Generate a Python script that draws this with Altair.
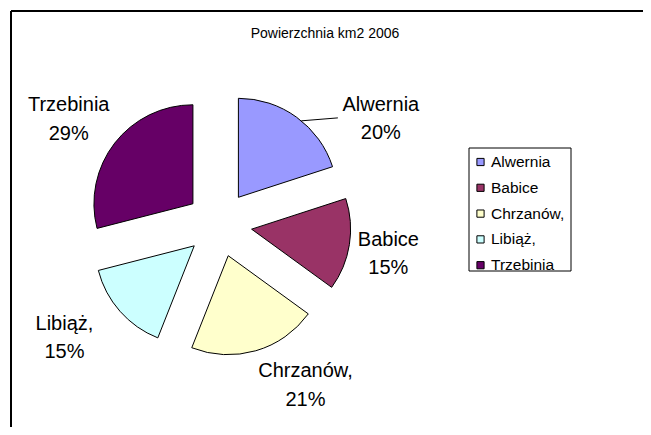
import math
import altair as alt
import pandas as pd

# ---- data ----
names = ["Alwernia", "Babice", "Chrzanów,", "Libiąż,", "Trzebinia"]
percents = [20, 15, 21, 15, 29]
colors = ["#9999FF", "#993366", "#FFFFCC", "#CCFFFF", "#660066"]
title_text = "Powierzchnia km2 2006"

# ---- layout (plot-area pixels) ----
W, H = 635, 419
CX, CY = 211, 216          # pie centre
R = 99                     # slice radius
EXPLODE = 33               # explosion distance
LINE_H = 28.5              # label line height
# label placement: (angle shift from slice middle in degrees, distance from centre)
label_layout = {
    "Alwernia": (21, 193),
    "Babice": (1, 172),
    "Chrzanów,": (-12, 183),
    "Libiąż,": (5, 192),
    "Trzebinia": (-3, 183),
}
LEG_X0, LEG_X1, LEG_Y0, LEG_Y1 = 461, 563, 140, 263
LEG_ROW0, LEG_STEP = 154, 25.8
FONT = "Liberation Sans"

total = sum(percents)
rows = []
cum = 0.0
for i, (n, p) in enumerate(zip(names, percents)):
    a0 = 2 * math.pi * cum / total
    cum += p
    a1 = 2 * math.pi * cum / total
    mid = (a0 + a1) / 2
    px = CX + EXPLODE * math.sin(mid)
    py = CY - EXPLODE * math.cos(mid)
    shift, dist = label_layout[n]
    la = mid + math.radians(shift)
    lx = CX + dist * math.sin(la)
    ly = CY - dist * math.cos(la)
    rows.append(dict(
        name=n, pct=p, a0=a0, a1=a1, px=px, py=py,
        lx=lx, ty=ly - LINE_H / 2, label=f"{n}\n{p}%",
        sx=px + R * math.sin(mid + 0.06), sy=py - R * math.cos(mid + 0.06),
        ex=lx - 43, ey=ly - 1,
        gy=LEG_ROW0 + i * LEG_STEP,
    ))
df = pd.DataFrame(rows)
one = pd.DataFrame({"k": [0]})

color = alt.Color("name:N", scale=alt.Scale(domain=names, range=colors), legend=None)

frame_top = alt.Chart(one).mark_rule(color="black", strokeWidth=2).encode(
    x=alt.value(3), x2=alt.value(W), y=alt.value(3))
frame_left = alt.Chart(one).mark_rule(color="black", strokeWidth=2).encode(
    x=alt.value(3), y=alt.value(3), y2=alt.value(H))

title = alt.Chart(one).mark_text(
    text=title_text, font=FONT, fontSize=14, color="black",
    align="center", baseline="middle").encode(x=alt.value(317), y=alt.value(26))

pie = alt.Chart(df).mark_arc(outerRadius=R, stroke="black", strokeWidth=1).encode(
    theta=alt.Theta("a0:Q", scale=None, stack=None),
    theta2="a1:Q",
    x=alt.X("px:Q", scale=None),
    y=alt.Y("py:Q", scale=None),
    color=color,
)

labels = alt.Chart(df).mark_text(
    font=FONT, fontSize=20, color="black", lineBreak="\n", lineHeight=LINE_H,
    align="center", baseline="middle").encode(
    x=alt.X("lx:Q", scale=None), y=alt.Y("ty:Q", scale=None), text="label:N")

leader = alt.Chart(df).transform_filter(alt.datum.name == "Alwernia").mark_rule(
    color="black", strokeWidth=1).encode(
    x=alt.X("sx:Q", scale=None), y=alt.Y("sy:Q", scale=None),
    x2="ex:Q", y2="ey:Q")

leg_box = alt.Chart(one).mark_rect(fill="white", stroke="black", strokeWidth=1).encode(
    x=alt.value(LEG_X0), x2=alt.value(LEG_X1), y=alt.value(LEG_Y0), y2=alt.value(LEG_Y1))
leg_sym = alt.Chart(df).mark_square(size=52, stroke="black", strokeWidth=1, opacity=1).encode(
    x=alt.value(LEG_X0 + 11.5), y=alt.Y("gy:Q", scale=None), color=color)
leg_txt = alt.Chart(df).mark_text(
    font=FONT, fontSize=15.5, color="black", align="left", baseline="middle").encode(
    x=alt.value(LEG_X0 + 22), y=alt.Y("gy:Q", scale=None), text="name:N")

chart = alt.layer(
    frame_top, frame_left, title, pie, labels, leader, leg_box, leg_sym, leg_txt
).properties(
    width=W, height=H, padding=0, background="white",
    autosize=alt.AutoSizeParams(type="none"),
).configure_view(stroke=None)

chart.save("out.html", embed_options={"renderer": "svg", "actions": False})
